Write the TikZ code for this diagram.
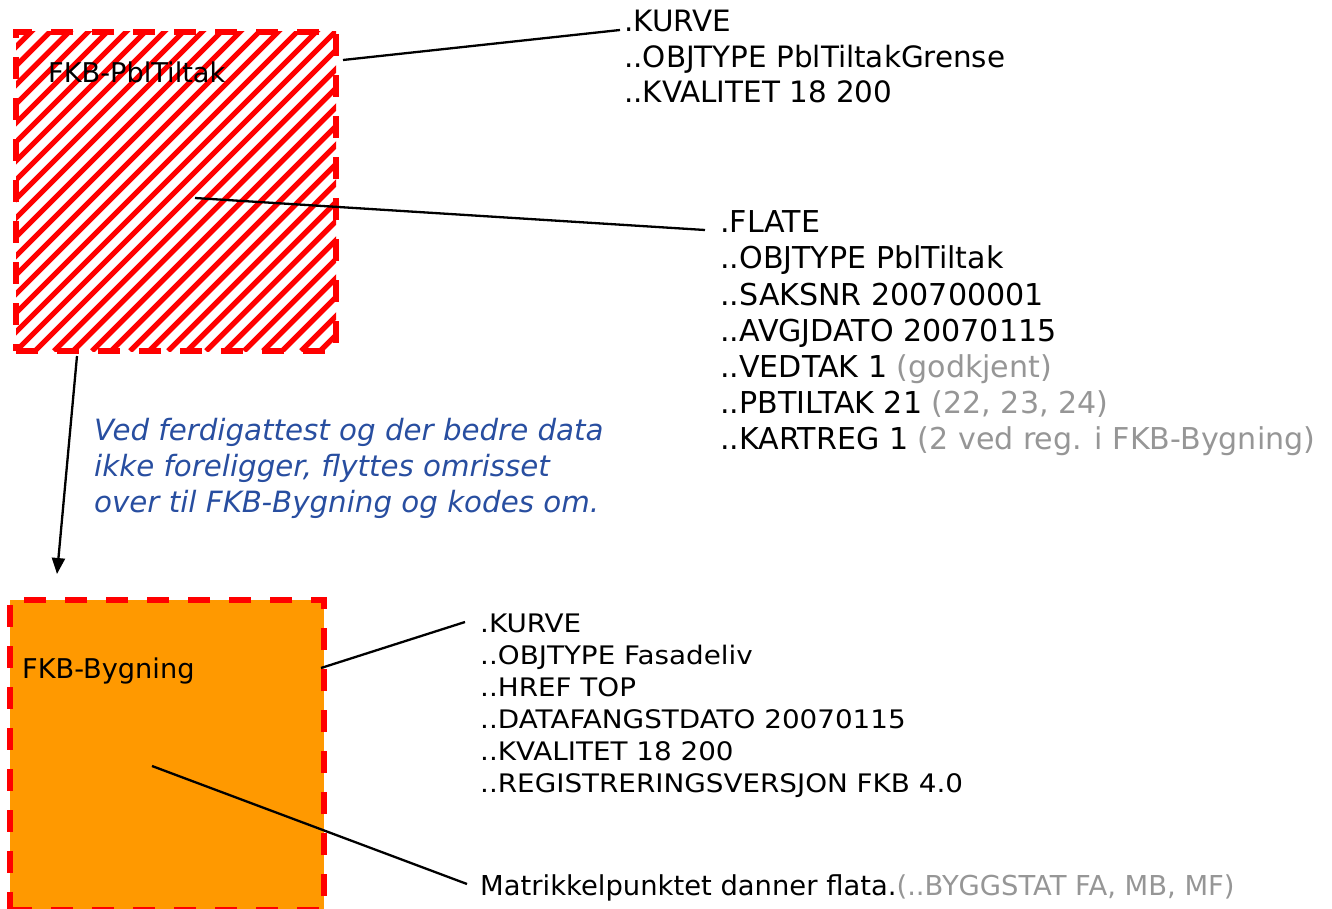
\documentclass[tikz,border=0pt]{standalone}
\usepackage{fontspec}
\setmainfont{DejaVu Sans}
\newfontfamily\wide[FakeStretch=1.09]{DejaVu Sans}
\usetikzlibrary{arrows.meta}
\definecolor{hatchred}{RGB}{255,0,0}
\definecolor{bygorange}{RGB}{255,153,0}
\definecolor{notegray}{RGB}{150,150,150}
\definecolor{noteblue}{RGB}{40,78,160}
\tikzset{
  txtA/.style={anchor=base west, inner sep=0pt, font=\fontsize{29.4}{34}\selectfont},
  txtB/.style={anchor=base west, inner sep=0pt, font=\fontsize{30.1}{34}\selectfont},
  txtC/.style={anchor=base west, inner sep=0pt, font=\wide\fontsize{25.5}{30}\selectfont},
  txtD/.style={anchor=base west, inner sep=0pt, font=\fontsize{27.4}{34}\selectfont},
  blue note/.style={anchor=base west, inner sep=0pt, text=noteblue, font=\itshape\fontsize{29.3}{34}\selectfont},
  boxlabel/.style={anchor=base west, inner sep=0pt, font=\fontsize{27.2}{30}\selectfont},
  leader/.style={line width=2.3pt, black},
  redframe/.style={draw=red, line width=6pt, dash pattern=on 22pt off 19pt},
}
\begin{document}
\begin{tikzpicture}[x=1pt,y=-1pt]
\useasboundingbox (0,0) rectangle (1332,909);
% top box (hatched)
\node[anchor=north west, inner sep=0pt, minimum width=320pt, minimum height=319pt,
  path picture={\foreach \i in {-342,-323,...,342}
     \draw[hatchred, solid, line width=5.3pt] ([xshift=\i pt]path picture bounding box.south west) -- ++(360,-360);},
  redframe] (pbl) at (13,29) {};
\node[boxlabel] (pbllab) at (48,83) {FKB-PblTiltak};
% bottom box (orange)
\node[anchor=north west, inner sep=0pt, minimum width=314pt, minimum height=310pt,
  fill=bygorange, redframe] (byg) at (7,597) {};
\node[boxlabel] (byglab) at (22,678) {FKB-Bygning};
% block 1
\node[txtA] (k1) at (624,32) {.KURVE};
\node[txtA] (k2) at (624,67.5) {..OBJTYPE PblTiltakGrense};
\node[txtA] (k3) at (624,103) {..KVALITET 18 200};
% block 2
\node[txtB] (f1) at (720,233) {.FLATE};
\node[txtB] (f2) at (720,269) {..OBJTYPE PblTiltak};
\node[txtB] (f3) at (720,305) {..SAKSNR 200700001};
\node[txtB] (f4) at (720,341) {..AVGJDATO 20070115};
\node[txtB] (f5) at (720,377) {..VEDTAK 1 \textcolor{notegray}{(godkjent)}};
\node[txtB] (f6) at (720,413) {..PBTILTAK 21 \textcolor{notegray}{(22, 23, 24)}};
\node[txtB] (f7) at (720,449) {..KARTREG 1 \textcolor{notegray}{(2 ved reg. i FKB-Bygning)}};
% blue note
\node[blue note] (n1) at (94,440) {Ved ferdigattest og der bedre data};
\node[blue note] (n2) at (94,476) {ikke foreligger, flyttes omrisset};
\node[blue note] (n3) at (94,512) {over til FKB-Bygning og kodes om.};
% block 3
\node[txtC] (c1) at (480,632) {.KURVE};
\node[txtC] (c2) at (480,664) {..OBJTYPE Fasadeliv};
\node[txtC] (c3) at (480,696) {..HREF TOP};
\node[txtC] (c4) at (480,728) {..DATAFANGSTDATO 20070115};
\node[txtC] (c5) at (480,760) {..KVALITET 18 200};
\node[txtC] (c6) at (480,792) {..REGISTRERINGSVERSJON FKB 4.0};
% block 4
\node[txtD] (m1) at (480,895) {Matrikkelpunktet danner flata.\textcolor{notegray}{(..BYGGSTAT FA, MB, MF)}};
% connector ends
\coordinate (a1) at (343,60);
\coordinate (a2) at (620,30);
\coordinate (b1) at (195,198);
\coordinate (b2) at (705,230);
\coordinate (d1) at (77,356);
\coordinate (d2) at (57,574);
\coordinate (e1) at (321,668);
\coordinate (e2) at (465,622);
\coordinate (g1) at (152,766);
\coordinate (g2) at (467,884);
\draw[leader] (a1) -- (a2);
\draw[leader] (b1) -- (b2);
\draw[leader, -{Triangle[length=16pt,width=13pt]}] (d1) -- (d2);
\draw[leader] (e1) -- (e2);
\draw[leader] (g1) -- (g2);
\end{tikzpicture}
\end{document}
